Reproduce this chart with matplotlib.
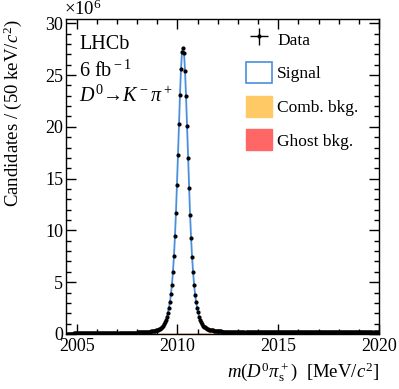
import matplotlib
matplotlib.use("Agg")
import matplotlib.pyplot as plt
from matplotlib.patches import Patch
from matplotlib.ticker import MultipleLocator
import numpy as np

plt.rcParams['font.family'] = 'Liberation Serif'
plt.rcParams['mathtext.fontset'] = 'custom'
plt.rcParams['mathtext.rm'] = 'Liberation Serif'
plt.rcParams['mathtext.it'] = 'Liberation Serif:italic'
plt.rcParams['mathtext.bf'] = 'Liberation Serif:bold'

# binning: 50 keV bins from threshold
bin_lo = 2004.5
bin_w = 0.05
# candidates per bin, in units of 1e6
counts_m = [
    0.01, 0.02, 0.03, 0.03, 0.04, 0.04, 0.04, 0.05, 0.05, 0.05,
    0.05, 0.05, 0.05, 0.06, 0.06, 0.06, 0.06, 0.06, 0.06, 0.06,
    0.06, 0.06, 0.06, 0.07, 0.07, 0.07, 0.07, 0.07, 0.07, 0.07,
    0.07, 0.07, 0.07, 0.07, 0.08, 0.08, 0.08, 0.08, 0.08, 0.08,
    0.08, 0.08, 0.08, 0.09, 0.09, 0.09, 0.09, 0.09, 0.09, 0.10,
    0.10, 0.10, 0.10, 0.10, 0.10, 0.11, 0.11, 0.11, 0.11, 0.11,
    0.12, 0.12, 0.12, 0.12, 0.13, 0.13, 0.13, 0.14, 0.14, 0.14,
    0.15, 0.15, 0.16, 0.16, 0.17, 0.17, 0.18, 0.19, 0.19, 0.20,
    0.21, 0.22, 0.23, 0.25, 0.26, 0.28, 0.30, 0.32, 0.35, 0.38,
    0.42, 0.47, 0.53, 0.60, 0.69, 0.80, 0.94, 1.12, 1.36, 1.66,
    2.05, 2.53, 3.08, 3.82, 4.76, 5.98, 7.52, 9.43, 11.72, 14.36,
    17.26, 20.30, 23.10, 25.60, 27.20, 27.64, 27.15, 25.40, 22.97, 20.10,
    17.00, 14.14, 11.53, 9.30, 7.43, 5.95, 4.76, 3.79, 3.08, 2.55,
    2.08, 1.68, 1.38, 1.14, 0.96, 0.82, 0.71, 0.63, 0.56, 0.51,
    0.47, 0.43, 0.40, 0.38, 0.36, 0.34, 0.33, 0.32, 0.31, 0.30,
    0.28, 0.27, 0.26, 0.25, 0.24, 0.24, 0.23, 0.23, 0.22, 0.22,
    0.21, 0.21, 0.20, 0.20, 0.20, 0.19, 0.19, 0.19, 0.18, 0.18,
    0.18, 0.18, 0.18, 0.17, 0.17, 0.17, 0.17, 0.17, 0.17, 0.17,
    0.17, 0.17, 0.17, 0.17, 0.17, 0.17, 0.17, 0.17, 0.17, 0.17,
    0.17, 0.17, 0.17, 0.17, 0.17, 0.16, 0.17, 0.16, 0.16, 0.16,
    0.16, 0.16, 0.16, 0.16, 0.16, 0.16, 0.16, 0.16, 0.16, 0.16,
    0.16, 0.16, 0.16, 0.16, 0.16, 0.16, 0.16, 0.16, 0.16, 0.16,
    0.16, 0.16, 0.16, 0.16, 0.16, 0.16, 0.16, 0.16, 0.16, 0.16,
    0.16, 0.16, 0.16, 0.16, 0.16, 0.16, 0.16, 0.16, 0.16, 0.16,
    0.16, 0.16, 0.16, 0.16, 0.16, 0.16, 0.16, 0.16, 0.16, 0.16,
    0.16, 0.16, 0.16, 0.16, 0.16, 0.16, 0.16, 0.16, 0.16, 0.16,
    0.16, 0.16, 0.16, 0.16, 0.16, 0.16, 0.16, 0.16, 0.16, 0.16,
    0.16, 0.16, 0.16, 0.16, 0.16, 0.16, 0.16, 0.16, 0.16, 0.16,
    0.16, 0.16, 0.16, 0.16, 0.16, 0.16, 0.16, 0.16, 0.16, 0.16,
    0.16, 0.16, 0.16, 0.16, 0.16, 0.16, 0.16, 0.16, 0.16, 0.16,
    0.16, 0.16, 0.16, 0.16, 0.16, 0.16, 0.16, 0.16, 0.16, 0.16,
]

# background components (1e6 / bin), read at 1 MeV steps
bkg_x = [2004.5, 2005, 2006, 2007, 2008, 2009, 2010, 2011, 2012,
         2013, 2014, 2015, 2016, 2017, 2018, 2019, 2020]
comb_m = [0.0, 0.03, 0.05, 0.06, 0.07, 0.08, 0.09, 0.095, 0.10,
          0.105, 0.11, 0.11, 0.115, 0.12, 0.12, 0.12, 0.125]
ghost_m = [0.0, 0.005, 0.005, 0.01, 0.01, 0.01, 0.015, 0.015, 0.01,
           0.01, 0.01, 0.01, 0.01, 0.01, 0.01, 0.01, 0.01]

c_sig = '#4a8fdc'
c_comb = '#ffc966'
c_ghost = '#ff6666'

n = len(counts_m)
centers = bin_lo + bin_w * (np.arange(n) + 0.5)
counts_m = np.array(counts_m)
yerr = np.sqrt(counts_m * 1e6) / 1e6
comb_m = np.array(comb_m)
ghost_m = np.array(ghost_m)

fig = plt.figure(figsize=(3.99, 3.89), dpi=100)
ax = fig.add_axes([0.1654, 0.1414, 0.7846, 0.8086])

ax.fill_between(bkg_x, 0, comb_m, color=c_comb, lw=0, zorder=1)
ax.fill_between(bkg_x, comb_m, comb_m + ghost_m, color=c_ghost, lw=0, zorder=1)
ax.plot(centers, counts_m, color=c_sig, lw=1.3, zorder=2)
data = ax.errorbar(centers, counts_m, xerr=bin_w / 2, yerr=yerr, fmt='o', ms=2,
                   color='black', elinewidth=1, capsize=0, zorder=3)

ax.set_xlim(2004.47, 2020)
ax.set_ylim(0, 30.37)
ax.xaxis.set_major_locator(MultipleLocator(5))
ax.xaxis.set_minor_locator(MultipleLocator(1))
ax.yaxis.set_major_locator(MultipleLocator(5))
ax.yaxis.set_minor_locator(MultipleLocator(1))
ax.tick_params(which='both', direction='in', top=True, right=True, labelsize=13, width=1)
ax.tick_params(which='major', length=7)
ax.tick_params(which='minor', length=3.5)
ax.tick_params(axis='x', pad=3)
ax.tick_params(axis='y', pad=2)
for s in ax.spines.values():
    s.set_linewidth(1)

ax.text(-0.005, 1.0, r'$\times$10$^{6}$', transform=ax.transAxes, fontsize=13.5, ha='left', va='bottom')

ax.set_xlabel(r'$m(D^0\pi^+_{\rm s})$  [MeV/$c^2$]', fontsize=13.5, ha='right', x=1.0)
ax.set_ylabel(r'Candidates / (50 keV/$c^2$)', fontsize=13.5, ha='right', y=1.0)
ax.xaxis.set_label_coords(1.0, -0.085)
ax.yaxis.set_label_coords(-0.135, 1.0)

ax.text(0.042, 0.95, 'LHCb', transform=ax.transAxes, fontsize=14.5, va='top')
ax.text(0.042, 0.87, r'6 fb$^{\rm -1}$', transform=ax.transAxes, fontsize=14.5, va='top')
ax.text(0.042, 0.79, r'$D^0$→$K^-\pi^+$', transform=ax.transAxes, fontsize=14.5, va='top')

handles = [data,
           Patch(facecolor='white', edgecolor=c_sig, lw=1.2),
           Patch(facecolor=c_comb, edgecolor=c_comb),
           Patch(facecolor=c_ghost, edgecolor=c_ghost)]
labels = ['Data', 'Signal', 'Comb. bkg.', 'Ghost bkg.']
ax.legend(handles, labels, loc='upper left', bbox_to_anchor=(0.575, 0.972),
          frameon=False, fontsize=12.5, handlelength=1.5, handleheight=1.5,
          labelspacing=0.72, handletextpad=0.3, borderpad=0, borderaxespad=0)

fig.savefig('out.png', dpi=100)
